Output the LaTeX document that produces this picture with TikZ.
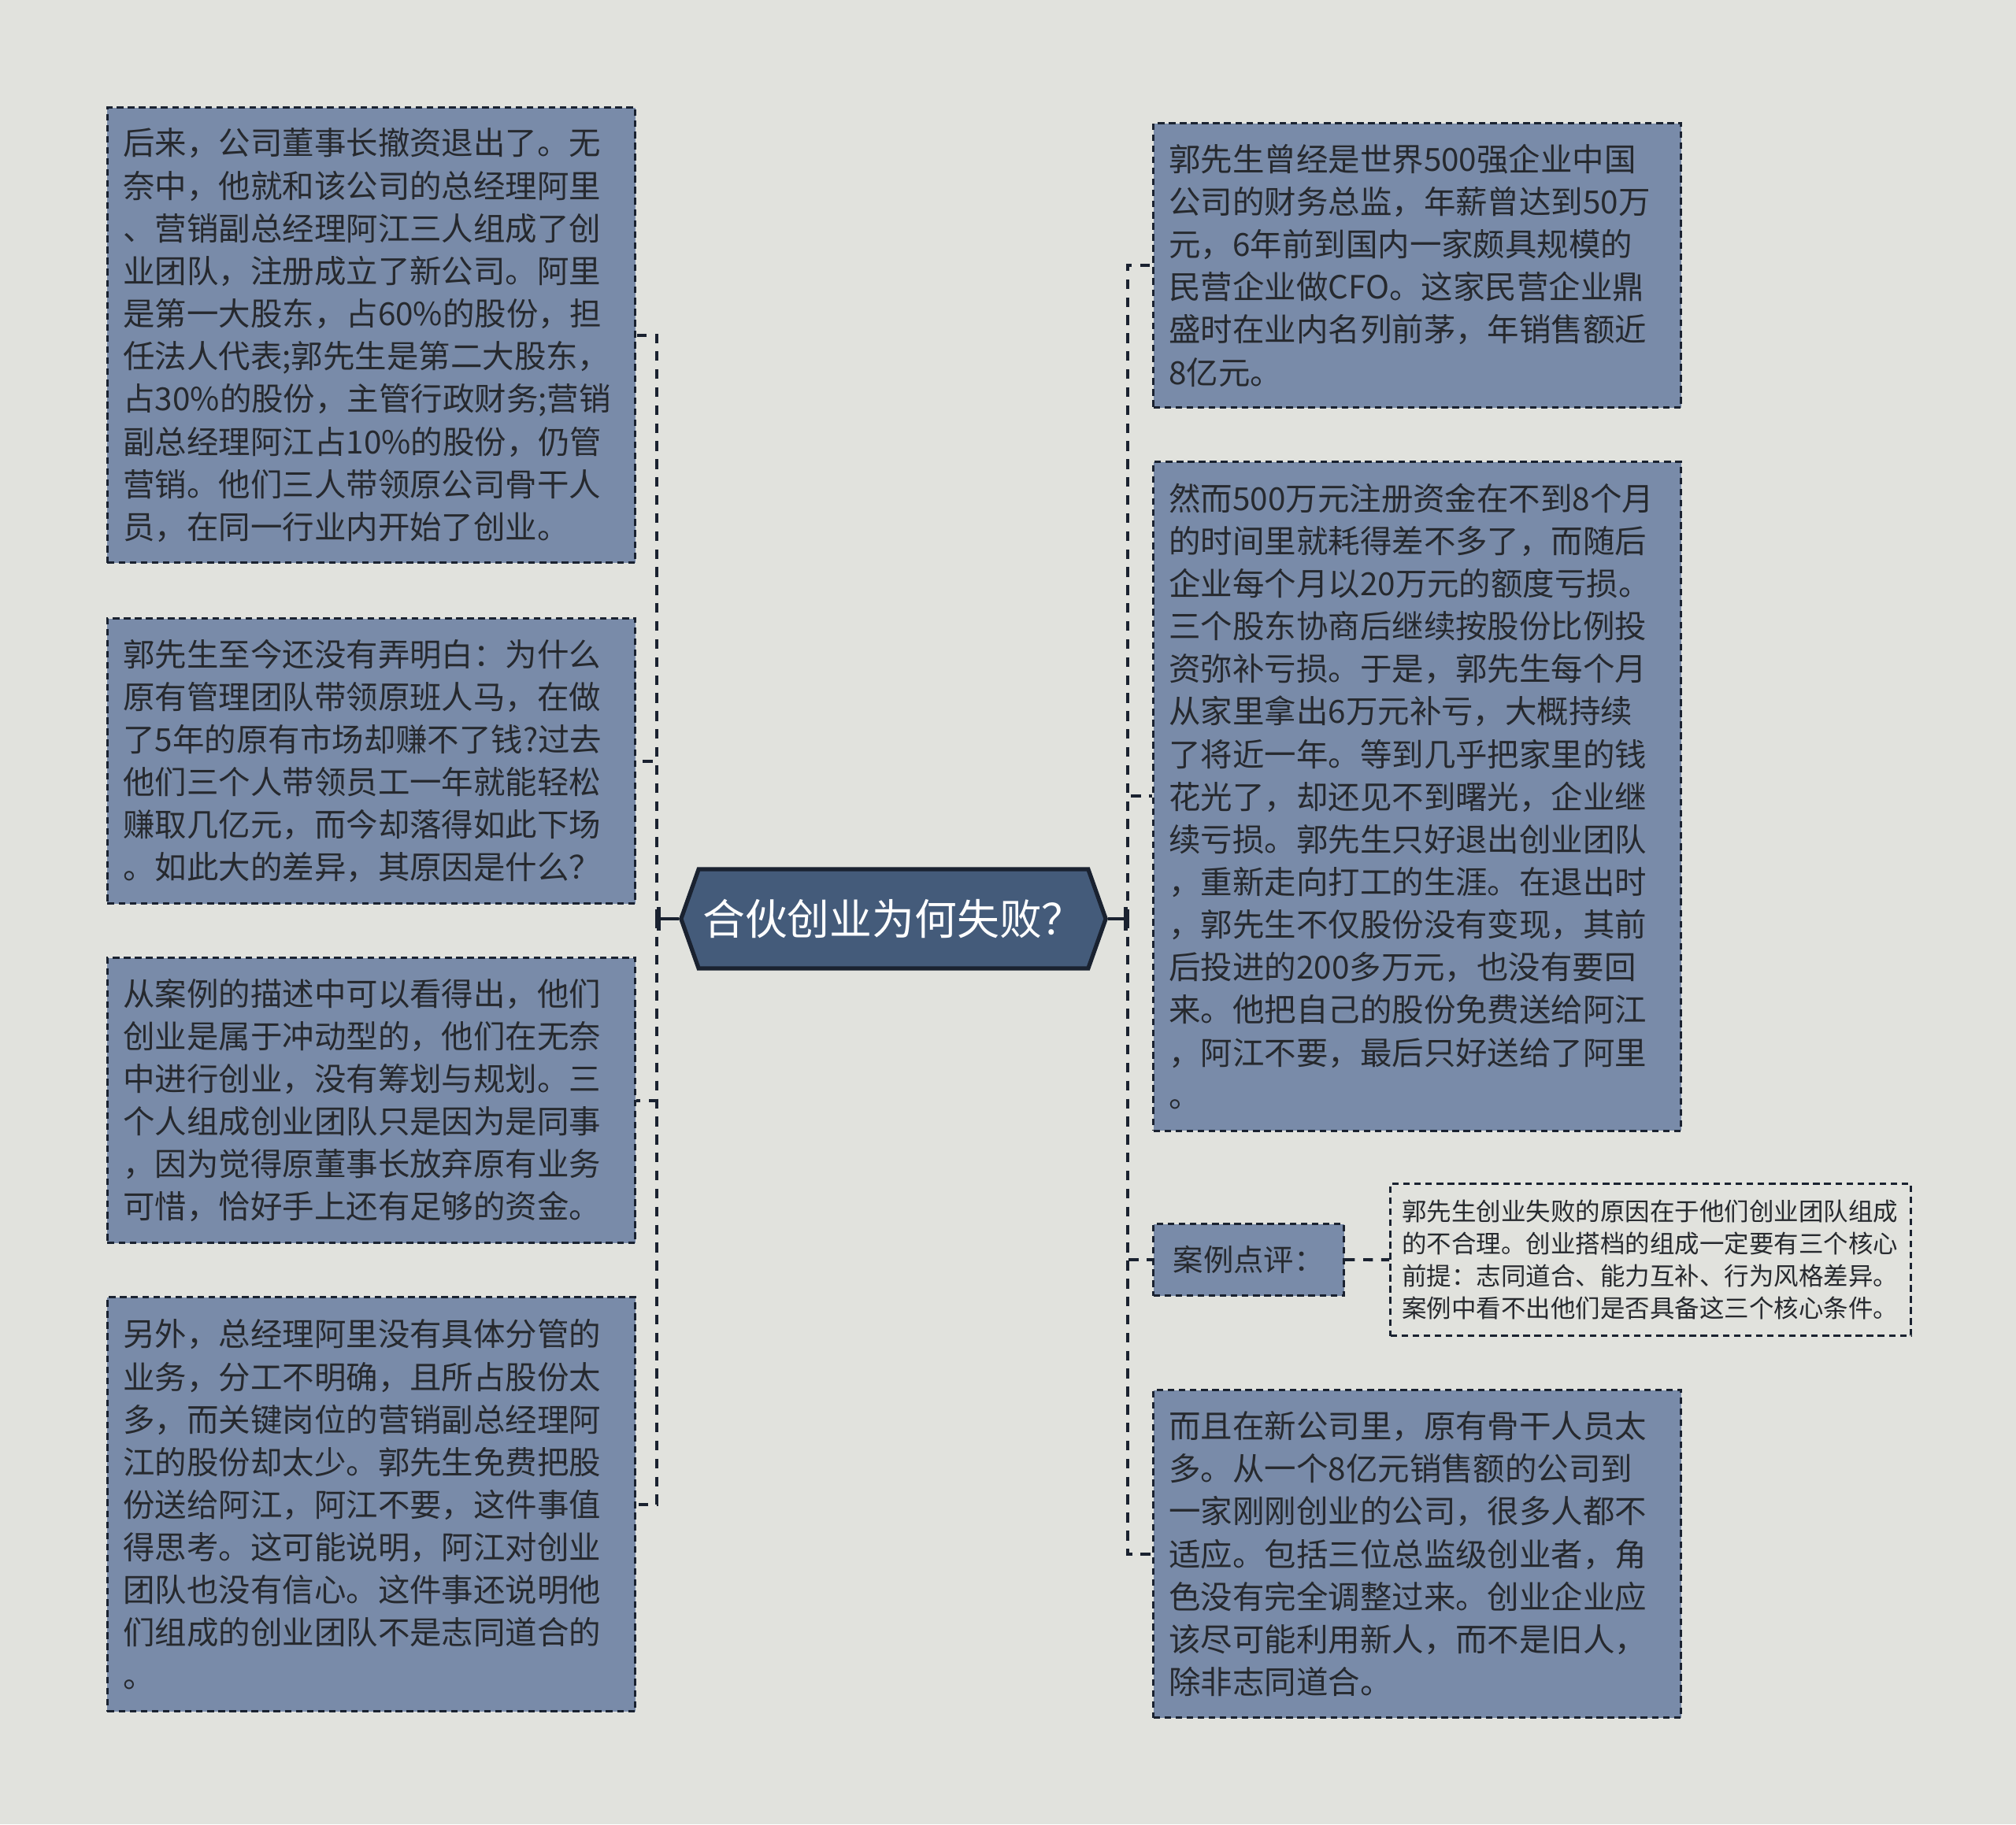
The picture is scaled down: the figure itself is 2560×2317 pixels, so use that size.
\documentclass[tikz,border=0pt]{standalone}
\usepackage{fontspec}
\setmainfont{Noto Sans CJK SC}
\usepackage{tikz}
\usetikzlibrary{shapes.symbols,arrows.meta}

\definecolor{paper}{HTML}{E1E2DD}
\definecolor{leaffill}{HTML}{798BA9}
\definecolor{ink}{HTML}{26292E}
\definecolor{edge}{HTML}{1A2230}
\definecolor{hubfill}{HTML}{445B7A}

\newcommand{\leaffont}{\fontsize{11.5pt}{15.4pt}\selectfont}
\newcommand{\notefont}{\fontsize{8.95pt}{11.6pt}\selectfont}

\tikzset{
  leaf/.style={draw=edge, fill=leaffill, text=ink, line width=0.85pt,
    dash pattern=on 2.4pt off 1.6pt, anchor=north west, inner xsep=0.2cm,
    inner ysep=0pt, text width=6.3cm, align=left, font=\leaffont},
  tag/.style={draw=edge, fill=leaffill, text=ink, line width=0.85pt,
    dash pattern=on 2.4pt off 1.6pt, anchor=north west, inner sep=0pt,
    minimum width=2.42cm, minimum height=0.91cm,
    font=\fontsize{10.9pt}{12pt}\selectfont},
  note/.style={draw=edge, text=ink, line width=0.85pt,
    dash pattern=on 2.4pt off 1.6pt, anchor=north west, inner xsep=0.15cm,
    inner ysep=0pt, text width=6.31cm, align=left, font=\notefont},
  hub/.style={shape=signal, signal to=west and east, signal pointer angle=141,
    draw=edge, line width=1.5pt, fill=hubfill, text=white, inner sep=0pt,
    minimum width=5.39cm, minimum height=1.26cm,
    font=\fontsize{15.3pt}{17pt}\selectfont},
  link/.style={draw=edge, line width=1.1pt, dash pattern=on 3.5pt off 3pt},
  stem/.style={draw=edge, line width=1.4pt, -{Bar[width=0.3cm]}}
}

\begin{document}
\begin{tikzpicture}[x=0.01cm,y=-0.01cm]
\fill [paper] (0,0) rectangle (2560,2317);
\useasboundingbox (0,0) rectangle (2560,2317);

% centre
\node [hub] (hub) at (1134.5,1167) {合伙创业为何失败？};
\coordinate (lbus) at (834,1167);
\coordinate (rbus) at (1432,1167);

% left branch
\node [leaf, minimum height=5.78cm] (L1) at (135,135) {后来，公司董事长撤资退出了。无\\
奈中，他就和该公司的总经理阿里\\
、营销副总经理阿江三人组成了创\\
业团队，注册成立了新公司。阿里\\
是第一大股东，占60\%的股份，担\\
任法人代表;郭先生是第二大股东，\\
占30\%的股份，主管行政财务;营销\\
副总经理阿江占10\%的股份，仍管\\
营销。他们三人带领原公司骨干人\\
员，在同一行业内开始了创业。};
\node [leaf, minimum height=3.62cm] (L2) at (135,784) {郭先生至今还没有弄明白：为什么\\
原有管理团队带领原班人马，在做\\
了5年的原有市场却赚不了钱?过去\\
他们三个人带领员工一年就能轻松\\
赚取几亿元，而今却落得如此下场\\
。如此大的差异，其原因是什么？};
\node [leaf, minimum height=3.62cm] (L3) at (135,1215) {从案例的描述中可以看得出，他们\\
创业是属于冲动型的，他们在无奈\\
中进行创业，没有筹划与规划。三\\
个人组成创业团队只是因为是同事\\
，因为觉得原董事长放弃原有业务\\
可惜，恰好手上还有足够的资金。};
\node [leaf, minimum height=5.26cm] (L4) at (135,1646) {另外，总经理阿里没有具体分管的\\
业务，分工不明确，且所占股份太\\
多，而关键岗位的营销副总经理阿\\
江的股份却太少。郭先生免费把股\\
份送给阿江，阿江不要，这件事值\\
得思考。这可能说明，阿江对创业\\
团队也没有信心。这件事还说明他\\
们组成的创业团队不是志同道合的\\
。};

% right branch
\node [leaf, minimum height=3.61cm] (R1) at (1463,155) {郭先生曾经是世界500强企业中国\\
公司的财务总监，年薪曾达到50万\\
元，6年前到国内一家颇具规模的\\
民营企业做CFO。这家民营企业鼎\\
盛时在业内名列前茅，年销售额近\\
8亿元。};
\node [leaf, minimum height=8.49cm] (R2) at (1463,585) {然而500万元注册资金在不到8个月\\
的时间里就耗得差不多了，而随后\\
企业每个月以20万元的额度亏损。\\
三个股东协商后继续按股份比例投\\
资弥补亏损。于是，郭先生每个月\\
从家里拿出6万元补亏，大概持续\\
了将近一年。等到几乎把家里的钱\\
花光了，却还见不到曙光，企业继\\
续亏损。郭先生只好退出创业团队\\
，重新走向打工的生涯。在退出时\\
，郭先生不仅股份没有变现，其前\\
后投进的200多万元，也没有要回\\
来。他把自己的股份免费送给阿江\\
，阿江不要，最后只好送给了阿里\\
。};
\node [tag] (R3) at (1463,1553) {案例点评：};
\node [note, minimum height=1.93cm] (N3) at (1764,1502) {郭先生创业失败的原因在于他们创业团队组成\\
的不合理。创业搭档的组成一定要有三个核心\\
前提：志同道合、能力互补、行为风格差异。\\
案例中看不出他们是否具备这三个核心条件。};
\node [leaf, minimum height=4.16cm] (R4) at (1463,1764) {而且在新公司里，原有骨干人员太\\
多。从一个8亿元销售额的公司到\\
一家刚刚创业的公司，很多人都不\\
适应。包括三位总监级创业者，角\\
色没有完全调整过来。创业企业应\\
该尽可能利用新人，而不是旧人，\\
除非志同道合。};

% connectors
\draw [stem] (hub.west) -- (lbus);
\draw [stem] (hub.east) -- (rbus);
\foreach \n in {L1,L2,L3,L4}
  \draw [link] (lbus) |- (\n.east);
\foreach \n in {R1,R2,R3,R4}
  \draw [link] (rbus) |- (\n.west);
\draw [link] (R3.east) -- (N3.west);
\end{tikzpicture}
\end{document}
